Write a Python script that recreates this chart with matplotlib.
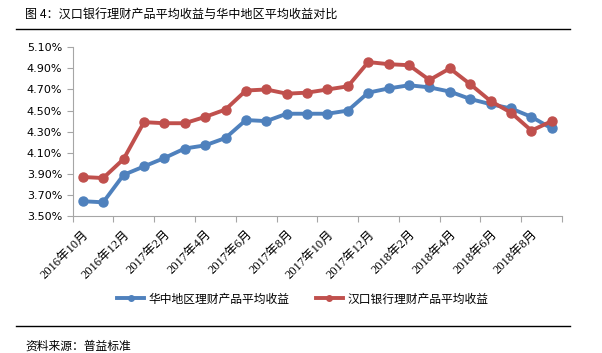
import numpy as np
import matplotlib
matplotlib.use("Agg")
from matplotlib import pyplot as plt
from matplotlib.lines import Line2D
from matplotlib.ticker import FuncFormatter

plt.rcParams['font.family'] = ['Noto Sans CJK SC', 'DejaVu Sans']

# monthly data, 2016-10 .. 2018-09
months = ["2016年10月", "2016年11月", "2016年12月", "2017年1月", "2017年2月", "2017年3月",
          "2017年4月", "2017年5月", "2017年6月", "2017年7月", "2017年8月", "2017年9月",
          "2017年10月", "2017年11月", "2017年12月", "2018年1月", "2018年2月", "2018年3月",
          "2018年4月", "2018年5月", "2018年6月", "2018年7月", "2018年8月", "2018年9月"]
central = [3.64, 3.63, 3.89, 3.97, 4.05, 4.14, 4.17, 4.24, 4.41, 4.40, 4.47, 4.47,
           4.47, 4.50, 4.67, 4.71, 4.74, 4.72, 4.68, 4.61, 4.56, 4.52, 4.44, 4.33]
hankou = [3.87, 3.86, 4.04, 4.39, 4.38, 4.38, 4.44, 4.51, 4.69, 4.70, 4.66, 4.67,
          4.70, 4.73, 4.96, 4.94, 4.93, 4.79, 4.90, 4.75, 4.59, 4.48, 4.31, 4.40]

name_central = "华中地区理财产品平均收益"
name_hankou = "汉口银行理财产品平均收益"
blue = "#4F81BD"
red = "#C0504D"

fig = plt.figure(figsize=(6.02, 3.53), dpi=100)
W, H = 602, 353
ax = fig.add_axes([72.6 / W, 1 - 216 / H, (562 - 72.6) / W, (216 - 47.3) / H])

x = np.arange(len(months))
ax.plot(x, central, color=blue, lw=2.8, marker='o', ms=6.5, solid_capstyle='round')
ax.plot(x, hankou, color=red, lw=2.8, marker='o', ms=6.5, solid_capstyle='round')

ax.set_xlim(-0.5, len(months) - 0.5)
ax.set_ylim(3.5, 5.1)
ax.set_yticks(np.arange(3.5, 5.11, 0.2))
ax.yaxis.set_major_formatter(FuncFormatter(lambda v, p: "%.2f%%" % v))

# tick marks at category boundaries, labels on every second category
ax.set_xticks(np.arange(-0.5, len(months), 2))
ax.set_xticklabels([])
ax.set_xticks(x[::2], minor=True)
ax.set_xticklabels(months[::2], minor=True, rotation=45, ha='right',
                   rotation_mode='anchor', fontsize=9,
                   family=['Liberation Serif', 'Noto Sans CJK SC'])
ax.tick_params(axis='x', which='minor', length=0, pad=9)
ax.tick_params(axis='x', which='major', length=4, color='#A6A6A6')
ax.tick_params(axis='y', length=4, color='#A6A6A6', labelsize=8)
for lab in ax.get_yticklabels():
    lab.set_family(['DejaVu Sans'])

for s in ['top', 'right']:
    ax.spines[s].set_visible(False)
for s in ['left', 'bottom']:
    ax.spines[s].set_color('#A6A6A6')

handles = [Line2D([], [], color=blue, lw=2.8, marker='o', ms=4),
           Line2D([], [], color=red, lw=2.8, marker='o', ms=4)]
fig.legend(handles, [name_central, name_hankou], loc='center',
           bbox_to_anchor=(0.503, 1 - 299 / H), ncol=2, frameon=False,
           fontsize=8.5, handlelength=2.3, handletextpad=0.4, columnspacing=2.2)

fig.text(25 / W, 1 - 14 / H, "图 4：汉口银行理财产品平均收益与华中地区平均收益对比",
         fontsize=8.7, va='center', ha='left')
fig.text(25 / W, 1 - 346 / H, "资料来源：普益标准", fontsize=8.5, va='center', ha='left')
fig.add_artist(Line2D([16 / W, 570 / W], [1 - 28.5 / H] * 2, color='black', lw=1))
fig.add_artist(Line2D([16 / W, 570 / W], [1 - 326 / H] * 2, color='black', lw=1))

fig.savefig("out.png", dpi=100)
